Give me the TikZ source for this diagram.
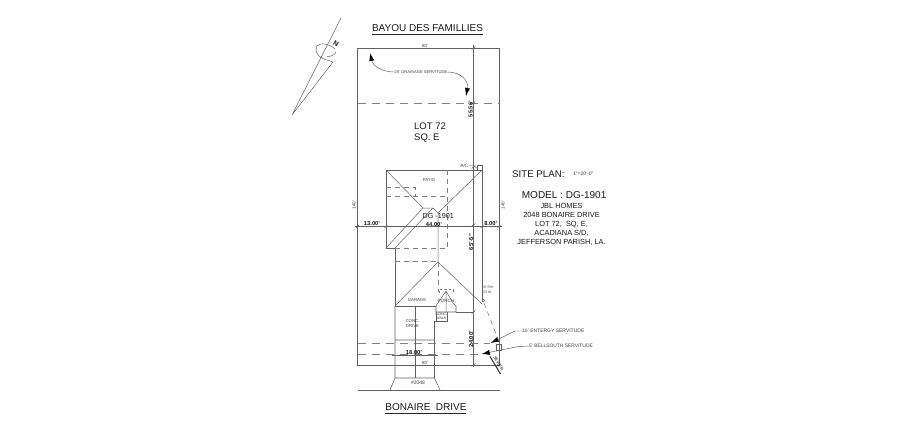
\documentclass[tikz,border=0pt]{standalone}
\usepackage{fontspec}
\setmainfont{Liberation Sans}
\usetikzlibrary{arrows.meta}
\tikzset{
  wall/.style={draw=black!62,line width=0.55pt},
  roof/.style={draw=black!62,line width=0.5pt},
  hid/.style={draw=black!50,line width=0.55pt,dash pattern=on 5pt off 4pt},
  serv/.style={draw=black!50,line width=0.55pt,dash pattern=on 8pt off 6pt},
  leader/.style={draw=black!65,line width=0.45pt},
  ptr/.style={leader,-{Latex[length=8pt,width=5pt,black]}},
  lab/.style={inner sep=0pt,text=black!90},
  tiny/.style={lab,font=\fontsize{4}{4.5}\selectfont,text=black!75},
  dimt/.style={lab,font=\fontsize{5.8}{6.5}\selectfont\bfseries},
  title/.style={lab,font=\fontsize{10}{12}\selectfont}
}
\begin{document}
\begin{tikzpicture}[x=1pt,y=-1pt]
\useasboundingbox (0,0) rectangle (900,433);
\fill[white] (0,0) rectangle (900,433);
% titles
\node[title] (top) at (427.5,28) {BAYOU DES FAMILLIES};
\draw[black!85,line width=0.6pt] (372,34) -- (483,34);
\node[title] (bot) at (426,407) {BONAIRE\ \ DRIVE};
\draw[black!85,line width=0.6pt] (385,413.5) -- (466,413.5);
% north arrow
\draw[leader] (341,18) -- (292,115) -- (333,62) .. controls (329,60) and (324,60) .. (320.5,57);
\draw[leader] (335,49) .. controls (330,44) and (320,42) .. (317,46) .. controls (314,51) and (318,56) .. (322,58);
\draw[leader] (327,56.5) .. controls (331,56.5) and (335,55) .. (336,52);
\node[lab,rotate=-30,font=\fontsize{7}{8}\selectfont\bfseries] (north) at (336,43.5) {N};
% lot
\draw[wall] (357.5,48) rectangle (499,365);
\draw[wall] (357.5,390) -- (500,390);
\draw[serv] (357.5,103) -- (499,103);
\draw[serv] (357.5,343.5) -- (490,343.5);
\draw[serv] (357.5,354) -- (482,354);
% dimension verticals
\draw[wall] (473.5,45) -- (473.5,367);
\foreach \yy in {48,103,167,225,312,365}{\draw[wall] (471.5,\yy+1.5) -- (475.5,\yy-1.5);}
\node[dimt,rotate=90] (d1) at (470.5,109) {55.56'};
\node[dimt,rotate=90] (d2) at (471,242) {65'-5"};
\node[dimt,rotate=90] (d3) at (471,339) {24.00'};
\node[tiny,font=\fontsize{4.5}{5}\selectfont] (w1) at (425,46) {80'};
\node[tiny,font=\fontsize{4.5}{5}\selectfont] (w2) at (425,363) {80'};
\node[tiny,rotate=90,font=\fontsize{4.5}{5}\selectfont] (s1) at (354,205) {140'};
\node[tiny,rotate=90,font=\fontsize{4.5}{5}\selectfont] (s2) at (503,205) {140'};
% servitude label
\node[tiny,font=\fontsize{4.1}{5}\selectfont] (ds) at (421,72) {25' DRAINAGE SERVITUDE};
\draw[ptr] (ds.west) .. controls (382,72) and (373,66) .. (370,53);
\draw[ptr] (ds.east) .. controls (460,72) and (469,80) .. (466,96);
% lot text
\node[lab,font=\fontsize{9.5}{11}\selectfont,align=left,anchor=north west] (lot) at (414,123) {LOT 72\\SQ. E};
% house
\draw[wall] (482,300) -- (482,170) -- (386,170) -- (386,248) -- (395,248) -- (395,306) -- (436,306);
\draw[roof] (386,170) -- (423,208) -- (433,208) -- (438,213) -- (482,170);
\draw[roof] (423,208) -- (386,248) (433,208) -- (395,248);
\draw[roof] (438,213) -- (438,262) (395,306) -- (438,262) -- (482,304);
\draw[hid] (386,187) -- (415,187) -- (415,196) (386,196) -- (447.5,196) (447.5,170) -- (447.5,248) -- (395,248) (395,261) -- (438,261);
\draw[hid] (438,262) -- (438,292);
% porch
\draw[wall] (438,303) -- (436,306) -- (436,312) -- (456,312) -- (456,306) -- (453,303);
\draw[roof] (446,291) -- (438,303) (446,291) -- (453,303) (446,291) -- (446,312);
\draw[hid,dash pattern=on 2.5pt off 2pt] (439,293) -- (439,289) -- (453,289) -- (453,293);
\draw[wall] (456,312) -- (474,312);
\draw[wall] (436,312) -- (436,321) -- (447,321) -- (447,312) (436,321) -- (434.5,321) -- (434.5,378);
\node[tiny,align=center,font=\fontsize{3.6}{4}\selectfont] (walk) at (441.5,316.5) {CONC.\\WALK};
\node[tiny,font=\fontsize{4.3}{5}\selectfont] (gar) at (417,300.5) {GARAGE};
\node[tiny,font=\fontsize{4.6}{5}\selectfont] (por) at (446,300.5) {PORCH};
\node[tiny,font=\fontsize{4.3}{5}\selectfont] (pat) at (429,180.5) {PATIO};
% drive
\draw[wall] (395,306) -- (395,378) -- (390,390);
\draw[wall] (434.5,378) -- (440,390) (395,378) -- (434.5,378) (395,340) -- (434.5,340);
\draw[wall] (415,306) -- (415,378);
\draw[wall] (392,355.5) -- (438,355.5);
\node[tiny,align=center,font=\fontsize{4.3}{4.8}\selectfont] (cd) at (412.5,323.5) {CONC.\\DRIVE};
\node[dimt] (d18) at (414,352.5) {18.00'};
\node[tiny,font=\fontsize{5}{5}\selectfont] (num) at (418,383) {\#2048};
% side dim
\draw[wall] (355,226.5) -- (501.5,226.5);
\foreach \xx in {357.5,386,482,499}{\draw[wall] (\xx-1.5,228) -- (\xx+1.5,225);}
\node[dimt] (d13) at (372,224) {13.00'};
\node[dimt] (d44) at (434,224.5) {44.00'};
\node[dimt] (d8) at (490.7,224) {8.00'};
\node[lab,font=\fontsize{7.2}{9}\selectfont] (dg) at (438.3,216.5) {DG -1901};
% A/C
\draw[wall] (477,165.7) rectangle (482.5,170.7);
\node[tiny,font=\fontsize{4.8}{5}\selectfont] (ac) at (464.3,165.8) {A/C};
\draw[leader] (ac.east) -- (474,166) -- (478,169);
% sewer etc
\node[tiny,align=left,anchor=north west,font=\fontsize{3.4}{5}\selectfont] (ry) at (482,285.5) {20' R/H\\CR W};
\draw[wall] (483.3,300.7) circle (1.3pt);
\draw[hid] (484,303) -- (498,339);
\draw[wall] (496.7,344) rectangle (501.5,350.7);
\node[lab,rotate=-60,font=\fontsize{4.3}{5}\selectfont] (sw) at (498.5,363.5) {SEWER};
\draw[line width=1pt,black!85] (490,356.5) -- (500.5,374);
\node[tiny,anchor=west,font=\fontsize{5}{5.5}\selectfont] (e) at (522,331) {10' ENTERGY SERVITUDE};
\node[tiny,anchor=west,font=\fontsize{4.9}{5.5}\selectfont] (b) at (529,346) {5' BELLSOUTH SERVITUDE};
\draw[ptr] (e.west) -- (515,331) -- (490.7,343);
\draw[ptr] (b.west) -- (518,346.5) -- (481.7,354);
% side text
\node[lab,anchor=west,font=\fontsize{9.7}{12}\selectfont] (sp) at (512,174) {SITE PLAN:};
\node[tiny,anchor=west,font=\fontsize{5}{5}\selectfont] (sc) at (573,174) {1"=20'-0"};
\node[lab,anchor=west,font=\fontsize{10}{12}\selectfont] (md) at (521.7,195.5) {MODEL : DG-1901};
\node[lab,align=center,font=\fontsize{7.4}{9}\selectfont] (addr) at (561.5,224) {JBL HOMES\\2048 BONAIRE DRIVE\\LOT 72,\ \ SQ, E,\\ACADIANA S/D,\\JEFFERSON PARISH, LA.};
\end{tikzpicture}
\end{document}
